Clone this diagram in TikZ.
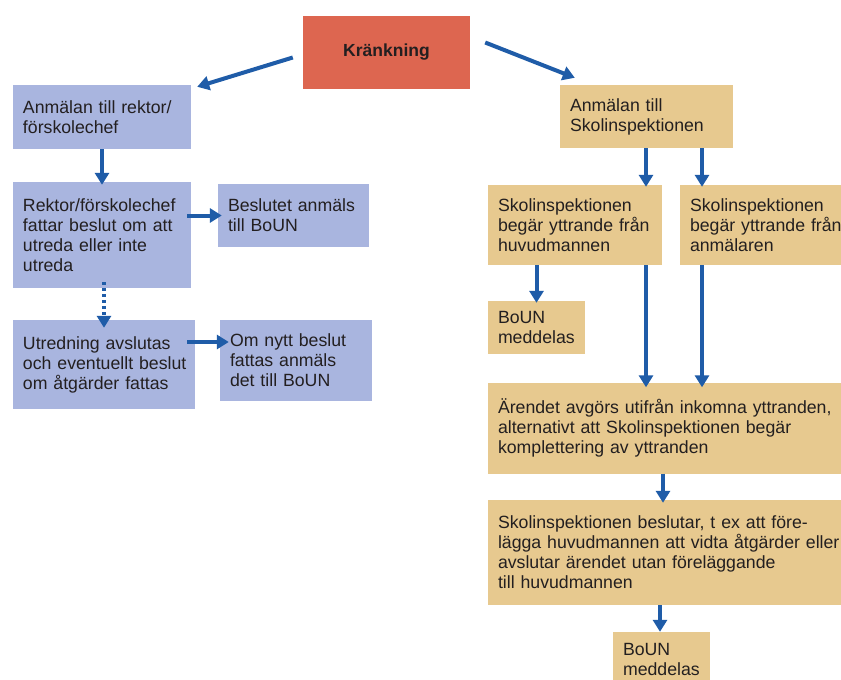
\documentclass[tikz,border=0pt]{standalone}
\usepackage{fontspec}
\setmainfont{Liberation Sans}
\usetikzlibrary{arrows.meta,calc}
\definecolor{redfill}{HTML}{DD6650}
\definecolor{bluefill}{HTML}{A9B5DF}
\definecolor{tanfill}{HTML}{E7C98F}
\definecolor{arrblue}{HTML}{1F5CA8}
\definecolor{txt}{HTML}{231F20}
\tikzset{
  box/.style={inner sep=0pt, align=left, font=\fontsize{17.7}{20}\selectfont, text=txt},
  bluebox/.style={box, fill=bluefill},
  tanbox/.style={box, fill=tanfill},
  arr/.style={line width=4pt, draw=arrblue, -{Triangle[width=14pt,length=12pt]}},
  dotarr/.style={arr, dash pattern=on 3pt off 3pt},
}
\begin{document}
\begin{tikzpicture}[x=1pt,y=-1pt]
\useasboundingbox (0,0) rectangle (841,680);
\fill[white] (0,0) rectangle (841,680);
% top
\node[box, fill=redfill, align=center, minimum width=167pt, minimum height=73pt, font=\fontsize{17.5}{20}\selectfont\bfseries] (K) at (386.5,52) {Kränkning};
% left column
\node[bluebox, minimum width=178pt, minimum height=64pt, text width=158pt] (A1) at (102,117) {\mbox{Anmälan till rektor/}\\förskolechef};
\node[bluebox, minimum width=178pt, minimum height=106pt, text width=158pt] (A2) at (102,235) {\mbox{Rektor/förskolechef}\\\mbox{fattar beslut om att}\\utreda eller inte\\utreda};
\node[bluebox, minimum width=151pt, minimum height=63pt, text width=131pt] (B1) at (293.5,215.5) {\mbox{Beslutet anmäls}\\till BoUN};
\node[bluebox, minimum width=182pt, minimum height=89pt, text width=162pt] (A3) at (104,364.5) {\mbox{Utredning avslutas}\\\mbox{och eventuellt beslut}\\\mbox{om åtgärder fattas}};
\node[bluebox, minimum width=152pt, minimum height=81pt, text width=132pt] (B2) at (296,360.5) {Om nytt beslut\\fattas anmäls\\det till BoUN};
% right column
\node[tanbox, minimum width=173pt, minimum height=63pt, text width=153pt] (R1) at (646.5,116.5) {Anmälan till\\\mbox{Skolinspektionen}};
\node[tanbox, minimum width=174pt, minimum height=80pt, text width=154pt] (R2) at (575,225) {\mbox{Skolinspektionen}\\\mbox{begär yttrande från}\\huvudmannen};
\node[tanbox, minimum width=165pt, minimum height=80pt, text width=145pt] (R3) at (762.5,225) {\mbox{Skolinspektionen}\\\mbox{begär yttrande från}\\anmälaren};
\node[tanbox, minimum width=97pt, minimum height=53pt, text width=77pt] (M1) at (536.5,327.5) {BoUN\\\mbox{meddelas}};
\node[tanbox, minimum width=357pt, minimum height=91pt, text width=337pt] (R4) at (666.5,428) {\mbox{Ärendet avgörs utifrån inkomna yttranden,}\\\mbox{alternativt att Skolinspektionen begär}\\komplettering av yttranden};
\node[tanbox, minimum width=357pt, minimum height=105pt, text width=337pt] (R5) at (666.5,552.5) {\mbox{Skolinspektionen beslutar, t ex att före-}\\\mbox{lägga huvudmannen att vidta åtgärder eller}\\\mbox{avslutar ärendet utan föreläggande}\\till huvudmannen};
\node[tanbox, minimum width=97pt, minimum height=54pt, text width=77pt] (M2) at (661.5,659) {BoUN\\\mbox{meddelas}};
% connectors
\draw[arr] ($(K.west)+(-10,5.5)$) -- ($(A1.north east)+(6,2)$);
\draw[arr] ($(K.east)+(15,-9.5)$) -- ($(R1.north west)+(15,-7)$);
\draw[arr] (A1.south) -- ($(A2.north)+(0,3)$);
\draw[arr] ($(A2.east)+(-4,-19.5)$) -- ($(B1.west)+(4,0)$);
\draw[dotarr] ($(A2.south)+(2,-6)$) -- ($(A3.north)+(0,8)$);
\draw[arr] ($(A3.east)+(-8,-22.5)$) -- ($(B2.west)+(9,-18.5)$);
\coordinate (c1) at ($(R1.south)+(-0.5,0)$);
\coordinate (c2) at ($(R1.south)+(55.5,0)$);
\draw[arr] (c1) -- ($(c1 |- R2.north)+(0,2)$);
\draw[arr] (c2) -- ($(c2 |- R3.north)+(0,2)$);
\draw[arr] (M1.north |- R2.south) -- ($(M1.north)+(0,2)$);
\draw[arr] (c1 |- R2.south) -- ($(c1 |- R4.north)+(0,5)$);
\draw[arr] (c2 |- R3.south) -- ($(c2 |- R4.north)+(0,5)$);
\draw[arr] ($(R4.south)+(-3.5,0)$) -- ($(R5.north)+(-3.5,3)$);
\draw[arr] ($(M2.north |- R5.south)+(-1.5,0)$) -- ($(M2.north)+(-1.5,0)$);
\end{tikzpicture}
\end{document}
